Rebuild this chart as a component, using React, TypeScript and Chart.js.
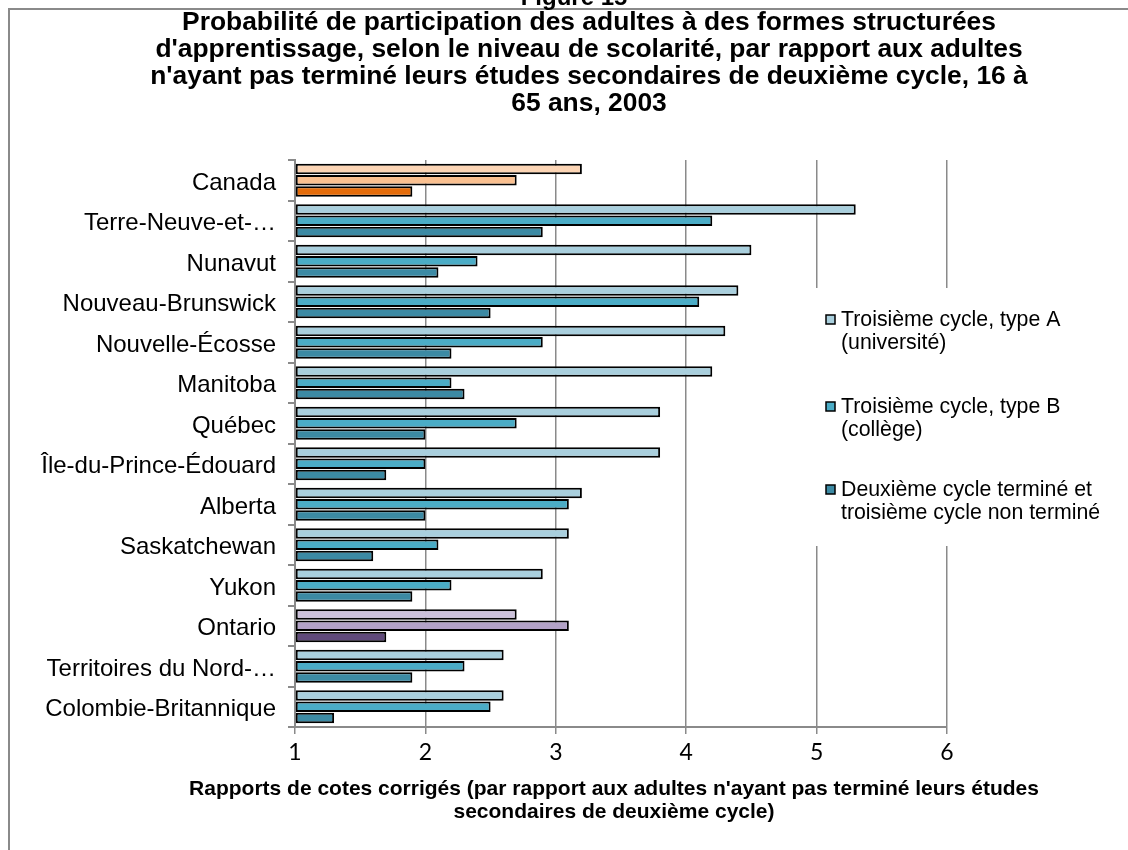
import React, { useEffect, useRef } from "react";
import { Chart, registerables } from "chart.js";

Chart.register(...registerables);

const categories = [
  "Canada",
  "Terre-Neuve-et-…",
  "Nunavut",
  "Nouveau-Brunswick",
  "Nouvelle-Écosse",
  "Manitoba",
  "Québec",
  "Île-du-Prince-Édouard",
  "Alberta",
  "Saskatchewan",
  "Yukon",
  "Ontario",
  "Territoires du Nord-…",
  "Colombie-Britannique",
];

const seriesNames = [
  ["Troisième cycle, type A", "(université)"],
  ["Troisième cycle, type B", "(collège)"],
  ["Deuxième cycle terminé et", "troisième cycle non terminé"],
];

const tertiaryA = [3.2, 5.3, 4.5, 4.4, 4.3, 4.2, 3.8, 3.8, 3.2, 3.1, 2.9, 2.7, 2.6, 2.6];
const tertiaryB = [2.7, 4.2, 2.4, 4.1, 2.9, 2.2, 2.7, 2.0, 3.1, 2.1, 2.2, 3.1, 2.3, 2.5];
const secondaryDone = [1.9, 2.9, 2.1, 2.5, 2.2, 2.3, 2.0, 1.7, 2.0, 1.6, 1.9, 1.7, 1.9, 1.3];

const xTicks = [1, 2, 3, 4, 5, 6];

const figureLabel = "Figure 15";
const titleLines = [
  "Probabilité de participation des adultes à des formes structurées",
  "d'apprentissage, selon le niveau de scolarité, par rapport aux adultes",
  "n'ayant pas terminé leurs études secondaires de deuxième cycle, 16 à",
  "65 ans, 2003",
];
const xTitleLines = [
  "Rapports de cotes corrigés (par rapport aux adultes n'ayant pas terminé leurs études",
  "secondaires de deuxième cycle)",
];

const baseColors = ["#A9CFDD", "#4BACC6", "#3C8AA4"];
const canadaColors = ["#FCD5B5", "#FAC090", "#E46C0A"];
const ontarioColors = ["#CCC1DA", "#B3A2C7", "#604A7B"];

const colorsFor = (s: number) =>
  categories.map((c) =>
    c === "Canada" ? canadaColors[s] : c === "Ontario" ? ontarioColors[s] : baseColors[s]
  );

const GRAY = "#8A8A8A";

const decorPlugin = {
  id: "decor",
  beforeDraw(chart: any) {
    const ctx = chart.ctx;
    ctx.save();
    ctx.fillStyle = "#ffffff";
    ctx.fillRect(0, 0, chart.width, chart.height);
    ctx.strokeStyle = GRAY;
    ctx.lineWidth = 2;
    ctx.beginPath();
    ctx.moveTo(9, chart.height);
    ctx.lineTo(9, 9);
    ctx.lineTo(chart.width, 9);
    ctx.stroke();
    ctx.fillStyle = "#000";
    ctx.textAlign = "center";
    ctx.textBaseline = "alphabetic";
    ctx.font = "bold 24px 'Liberation Sans', Arial, sans-serif";
    ctx.fillText(figureLabel, 574, 5);
    ctx.textBaseline = "middle";
    ctx.font = "bold 26.4px 'Liberation Sans', Arial, sans-serif";
    titleLines.forEach((l, i) => ctx.fillText(l, 589, 23 + i * 27));
    ctx.font = "bold 21px 'Liberation Sans', Arial, sans-serif";
    xTitleLines.forEach((l, i) => ctx.fillText(l, 614, 789 + i * 23));
    ctx.restore();
  },
  afterDraw(chart: any) {
    const ctx = chart.ctx;
    ctx.save();
    ctx.fillStyle = "#ffffff";
    ctx.fillRect(808, 288, 310, 258);
    const ys = [320, 407, 490];
    ctx.font = "21.3px 'Liberation Sans', Arial, sans-serif";
    ctx.textBaseline = "middle";
    ctx.textAlign = "left";
    seriesNames.forEach((lines, i) => {
      const y = ys[i];
      ctx.fillStyle = baseColors[i];
      ctx.fillRect(826, y - 5, 9, 9);
      ctx.strokeStyle = "#000";
      ctx.lineWidth = 1.5;
      ctx.strokeRect(826, y - 5, 9, 9);
      ctx.fillStyle = "#000";
      lines.forEach((l, j) => ctx.fillText(l, 841, y + j * 23));
    });
    ctx.restore();
  },
};

export default function App() {
  const ref = useRef<HTMLCanvasElement | null>(null);
  useEffect(() => {
    if (!ref.current) return;
    const mk = (label: string, data: number[], s: number) => ({
      label,
      data,
      base: 1,
      backgroundColor: colorsFor(s),
      borderColor: "#000000",
      borderWidth: 2,
      borderSkipped: false,
      categoryPercentage: 0.83,
      barPercentage: 0.94,
    });
    const chart = new Chart(ref.current, {
      type: "bar",
      data: {
        labels: categories,
        datasets: [
          mk(seriesNames[0].join(" "), tertiaryA, 0),
          mk(seriesNames[1].join(" "), tertiaryB, 1),
          mk(seriesNames[2].join(" "), secondaryDone, 2),
        ],
      },
      options: {
        indexAxis: "y",
        responsive: false,
        animation: false,
        layout: { padding: { top: 160, left: 10, right: 181, bottom: 0 } },
        plugins: {
          legend: { display: false },
          title: { display: false },
          tooltip: { enabled: false },
        },
        scales: {
          x: {
            type: "linear",
            min: 1,
            max: 6,
            afterBuildTicks: (scale: any) => {
              scale.ticks = xTicks.map((v) => ({ value: v }));
            },
            afterFit: (scale: any) => {
              scale.height = 123;
            },
            ticks: {
              color: "#000",
              font: { family: "Lato, 'Liberation Sans', sans-serif", size: 23 },
              padding: 5,
            },
            grid: {
              color: GRAY,
              lineWidth: 1.5,
              drawTicks: true,
              tickLength: 7,
            },
            border: { color: GRAY, width: 2 },
          },
          y: {
            afterFit: (scale: any) => {
              scale.width = 285;
            },
            ticks: {
              color: "#000",
              font: { family: "'Liberation Sans', Arial, sans-serif", size: 24 },
              padding: 12,
              labelOffset: 3,
              autoSkip: false,
            },
            grid: {
              offset: true,
              drawOnChartArea: false,
              drawTicks: true,
              tickLength: 7,
              color: GRAY,
              lineWidth: 2,
            },
            border: { color: GRAY, width: 2 },
          },
        },
      },
      plugins: [decorPlugin],
    } as any);
    return () => chart.destroy();
  }, []);
  return (
    <div style={{ position: "fixed", left: 0, top: 0, width: 1128, height: 850 }}>
      <canvas ref={ref} width={1128} height={850} style={{ display: "block" }} />
    </div>
  );
}
